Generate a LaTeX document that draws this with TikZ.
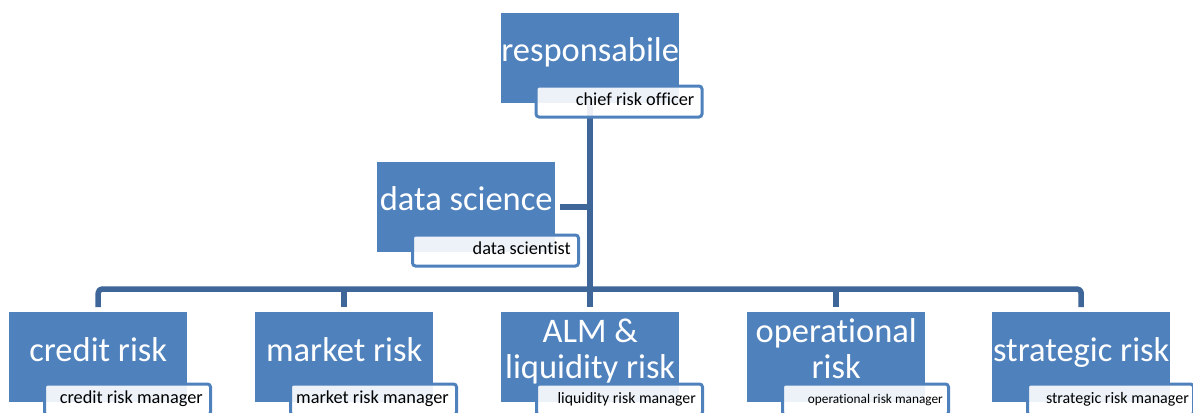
\documentclass[tikz,border=0pt]{standalone}
\usepackage{fontspec}
\setmainfont{Carlito}[Ligatures=NoCommon]
\usetikzlibrary{calc}
\pgfdeclarelayer{background}
\pgfsetlayers{background,main}
\definecolor{boxblue}{RGB}{79,129,189}
\definecolor{linkblue}{RGB}{62,102,153}
\tikzset{
  bluebox/.style={fill=boxblue, draw=none, minimum width=178pt, minimum height=90pt, inner sep=0pt, anchor=north west},
  subbox/.style={fill=white, fill opacity=0.9, draw=boxblue, draw opacity=1, line width=3pt, rounded corners=3pt, minimum width=166pt, minimum height=31pt, inner sep=0pt, anchor=north west},
  bigtext/.style={text=white, font=\fontsize{34.5}{36}\selectfont, inner sep=0pt, anchor=base},
  subtext/.style={text=black, inner sep=0pt, anchor=base east},
  link/.style={draw=linkblue, line width=5.5pt, line cap=butt, line join=round},
}
\begin{document}
\begin{tikzpicture}[x=1pt,y=-1pt]
\path[use as bounding box] (0,0) rectangle (1193,412);
\clip (0,0) rectangle (1193,412);

% main boxes
\node[bluebox] (top) at (501,13) {};
\node[bluebox] (ds)  at (377,162) {};
\node[bluebox] (cr)  at (9,312) {};
\node[bluebox] (mk)  at (255,312) {};
\node[bluebox] (alm) at (501,312) {};
\node[bluebox] (op)  at (747,312) {};
\node[bluebox] (st)  at (992,312) {};

% titles
\node[bigtext] (topt) at ($(top.north)+(0,-49pt)$) {responsabile};
\node[bigtext] (dst)  at ($(ds.north)+(0,-48pt)$) {data science};
\node[bigtext] (crt)  at ($(cr.north)+(0,-49pt)$) {credit risk};
\node[bigtext] (mkt)  at ($(mk.north)+(0,-49pt)$) {market risk};
\node[bigtext] (almt) at ($(alm.north)+(0,-66pt)$) {\begin{tabular}[b]{@{}c@{}}ALM \&\\liquidity risk\end{tabular}};
\node[bigtext] (opt)  at ($(op.north)+(0,-66pt)$) {\begin{tabular}[b]{@{}c@{}}operational\\risk\end{tabular}};
\node[bigtext] (stt)  at ($(st.north)+(0,-49pt)$) {strategic risk};

% sub boxes
\node[subbox] (tops) at ($(top.north west)+(33.5pt,-71.5pt)$) {};
\node[subbox] (dss)  at ($(ds.north west)+(34pt,-71.5pt)$) {};
\node[subbox] (crs)  at ($(cr.north west)+(34pt,-70.5pt)$) {};
\node[subbox] (mks)  at ($(mk.north west)+(34pt,-70.5pt)$) {};
\node[subbox] (alms) at ($(alm.north west)+(34pt,-70.5pt)$) {};
\node[subbox] (ops)  at ($(op.north west)+(34pt,-70.5pt)$) {};
\node[subbox] (sts)  at ($(st.north west)+(34pt,-70.5pt)$) {};

% sub texts
\node[subtext, font=\fontsize{18.3}{20}\selectfont] (topst) at ($(tops.north east)+(-9pt,-20.5pt)$) {chief risk officer};
\node[subtext, font=\fontsize{18.3}{20}\selectfont] (dsst)  at ($(dss.north east)+(-9pt,-20.5pt)$) {data scientist};
\node[subtext, font=\fontsize{18.3}{20}\selectfont] (crst)  at ($(crs.north east)+(-9pt,-20.5pt)$) {credit risk manager};
\node[subtext, font=\fontsize{18.3}{20}\selectfont] (mkst)  at ($(mks.north east)+(-9pt,-20.5pt)$) {market risk manager};
\node[subtext, font=\fontsize{15.8}{18}\selectfont] (almst) at ($(alms.north east)+(-8pt,-20.5pt)$) {liquidity risk manager};
\node[subtext, font=\fontsize{13.3}{16}\selectfont] (opst)  at ($(ops.north east)+(-7pt,-20.5pt)$) {operational risk manager};
\node[subtext, font=\fontsize{16}{18}\selectfont] (stst)  at ($(sts.north east)+(-6pt,-20.5pt)$) {strategic risk manager};

% connectors
\coordinate (barY) at (0,289);
\begin{pgfonlayer}{background}
  \draw[link] (top.south) -- ($(alm.north)+(0,5pt)$);
  \draw[link] ($(ds.east)+(5pt,0)$) -- (top.south |- ds.east);
  \draw[link, rounded corners=4pt] ($(cr.north)+(0,5pt)$) |- (barY -| st.north) -- ($(st.north)+(0,5pt)$);
  \draw[link] ($(mk.north)+(0,5pt)$) -- (mk.north |- barY);
  \draw[link] ($(op.north)+(0,5pt)$) -- (op.north |- barY);
\end{pgfonlayer}
\end{tikzpicture}
\end{document}
